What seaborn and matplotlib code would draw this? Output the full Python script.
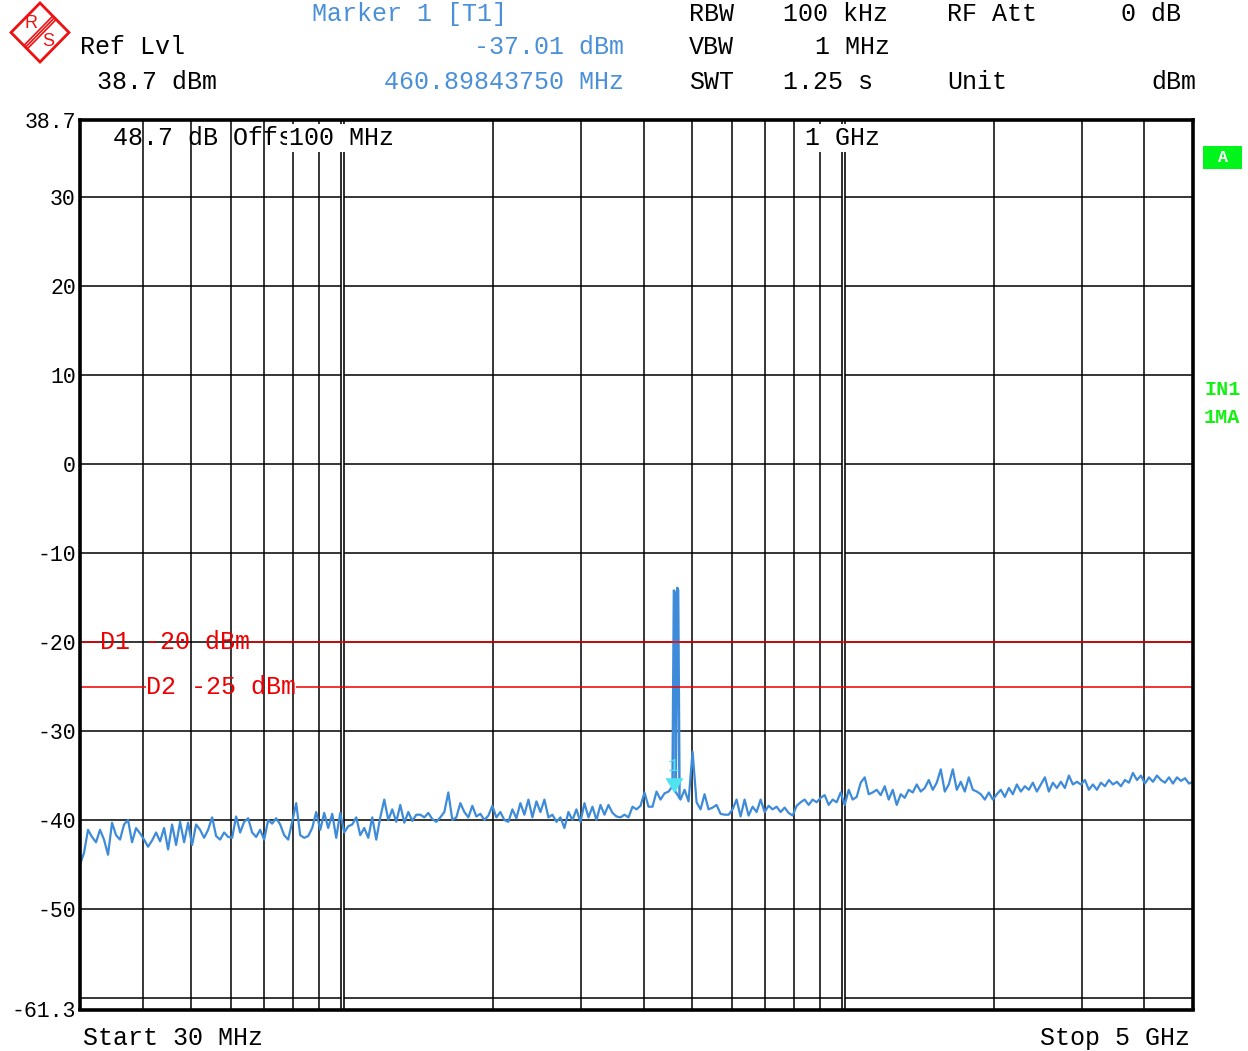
import numpy as np
import pandas as pd
import matplotlib
matplotlib.use("Agg")
import matplotlib.pyplot as plt
from matplotlib.patches import Polygon, Rectangle
from matplotlib.ticker import NullLocator
import seaborn as sns

# ---- sweep setup -------------------------------------------------------
start_mhz = 30
stop_mhz = 5000
ref_lvl = 38.7
bottom_lvl = -61.3

# max-hold trace, one level per sweep point (log-spaced from start to stop)
trace_dbm = [
    -45.0, -43.7, -41.1, -41.9, -42.5, -41.1, -42.2, -43.9, -40.3, -41.7,
    -42.2, -40.5, -40.0, -42.5, -40.9, -41.5, -42.2, -43.0, -42.3, -41.4,
    -42.4, -40.9, -43.3, -40.5, -42.8, -40.2, -42.5, -40.3, -42.8, -40.5,
    -41.1, -42.0, -41.1, -39.7, -41.8, -42.2, -41.4, -41.9, -42.0, -39.6,
    -41.4, -40.2, -39.8, -41.4, -41.9, -41.1, -42.2, -40.0, -40.4, -39.8,
    -40.5, -41.7, -42.2, -40.2, -38.1, -41.7, -42.0, -41.8, -40.9, -39.1,
    -41.1, -39.2, -40.9, -39.3, -42.0, -39.2, -41.4, -40.7, -40.5, -39.7,
    -41.7, -40.9, -42.0, -39.7, -42.2, -39.7, -37.7, -40.0, -38.8, -40.2,
    -38.3, -40.3, -39.1, -40.1, -39.4, -39.4, -39.7, -39.2, -39.9, -40.2,
    -39.7, -39.1, -36.9, -40.0, -39.7, -38.1, -39.1, -39.7, -38.4, -39.6,
    -39.3, -40.0, -39.5, -38.4, -39.7, -39.1, -40.0, -40.2, -38.8, -39.8,
    -38.1, -39.4, -37.7, -39.7, -37.9, -39.1, -37.7, -39.7, -39.4, -40.2,
    -39.7, -40.9, -39.1, -40.0, -38.8, -40.2, -38.1, -39.7, -38.5, -40.0,
    -38.3, -39.4, -38.3, -39.2, -39.6, -39.7, -39.4, -39.7, -38.5, -38.8,
    -38.4, -36.9, -38.5, -38.5, -36.8, -37.7, -37.0, -36.8, -36.2, -37.0,
    -37.7, -36.6, -37.9, -32.3, -38.0, -38.8, -37.1, -38.8, -38.6, -38.3,
    -39.3, -39.4, -39.4, -38.8, -37.7, -39.6, -37.7, -39.5, -38.5, -39.1,
    -37.7, -39.1, -38.4, -38.8, -38.5, -39.1, -38.6, -39.2, -39.5, -38.4,
    -38.0, -37.7, -38.3, -37.7, -38.0, -37.5, -37.2, -38.3, -37.7, -38.0,
    -36.9, -38.3, -36.6, -37.7, -37.4, -35.8, -35.2, -37.1, -36.9, -36.6,
    -37.2, -36.2, -37.7, -36.6, -38.3, -37.1, -37.5, -36.6, -36.9, -36.0,
    -36.8, -36.4, -35.5, -36.6, -35.8, -34.3, -36.8, -36.0, -34.3, -36.6,
    -35.7, -36.8, -35.2, -36.6, -36.8, -37.1, -37.7, -36.9, -37.7, -37.1,
    -36.6, -37.4, -36.4, -37.1, -36.0, -36.8, -36.2, -36.6, -35.8, -36.8,
    -36.0, -35.2, -36.8, -35.8, -36.4, -35.7, -36.4, -35.0, -36.0, -35.7,
    -36.0, -35.5, -36.6, -36.0, -36.6, -35.8, -36.2, -35.5, -36.0, -35.7,
    -36.2, -35.5, -35.8, -34.7, -35.5, -35.0, -35.9, -35.2, -35.7, -35.0,
    -35.5, -35.8, -35.2, -35.9, -35.2, -35.6, -35.3, -35.9, -35.7,
]

# narrow carrier around 460 MHz
carrier_mhz = [457.0, 460.0, 462.0, 464.0, 467.0, 469.0, 472.0]
carrier_dbm = [-36.4, -14.2, -14.5, -36.0, -13.9, -14.2, -37.5]

marker_mhz = 460.89843750
marker_dbm = -37.01

d1_dbm = -20
d2_dbm = -25

ytick_vals = [38.7, 30, 20, 10, 0, -10, -20, -30, -40, -50, -61.3]
ytick_labels = ["38.7", "30", "20", "10", "0", "-10", "-20", "-30",
                "-40", "-50", "-61.3"]
hgrid_dbm = [30, 20, 10, 0, -10, -20, -30, -40, -50, -60]
vgrid_mhz = [40, 50, 60, 70, 80, 90, 200, 300, 400, 500, 600, 700, 800,
             900, 2000, 3000, 4000]
decade_mhz = [100, 1000]
decade_labels = ["100 MHz", "1 GHz"]

# ---- colours ------------------------------------------------------------
TRACE = "#3d8bd9"
INFO_BLUE = "#4a90d9"
RED = "#ee0000"
CYAN = "#4fe3f0"
GREEN = "#14f014"

sns.set_theme(style="white")
plt.rcParams["font.family"] = ["Liberation Mono", "DejaVu Sans Mono"]
plt.rcParams["axes.unicode_minus"] = False

FS = 18
W, H = 1248, 1051
fig = plt.figure(figsize=(W / 100, H / 100), dpi=100, facecolor="white")

# overlay in pixel units for the instrument header / side annotations
ov = fig.add_axes([0, 0, 1, 1])
ov.set_xlim(0, W)
ov.set_ylim(H, 0)
ov.axis("off")

ax = fig.add_axes([80 / W, 1 - 1009.5 / H, 1113 / W, 889.5 / H])
ax.set_facecolor("white")
ax.set_xscale("log")

sweep_mhz = np.geomspace(start_mhz, stop_mhz, len(trace_dbm))
trace = pd.DataFrame({"freq": sweep_mhz, "level": trace_dbm})
carrier = pd.DataFrame({"freq": carrier_mhz, "level": carrier_dbm})
sns.lineplot(data=trace, x="freq", y="level", ax=ax, color=TRACE, lw=1.6,
             estimator=None, legend=False, zorder=4)
sns.lineplot(data=carrier, x="freq", y="level", ax=ax, color=TRACE, lw=1.8,
             estimator=None, sort=False, legend=False, zorder=4)

ax.set_xlim(start_mhz, stop_mhz)
ax.set_ylim(bottom_lvl, ref_lvl)
ax.set_xlabel("")
ax.set_ylabel("")
ax.set_xticks([])
ax.xaxis.set_minor_locator(NullLocator())
ax.set_yticks(ytick_vals, ytick_labels)
ax.tick_params(axis="y", length=0, pad=3, labelsize=15.5, labelcolor="black")
for sp in ax.spines.values():
    sp.set_linewidth(2.6)
    sp.set_color("black")
    sp.set_zorder(8)

# graticule
for lv in hgrid_dbm:
    ax.axhline(lv, color="black", lw=1.1, zorder=1)
for f in vgrid_mhz:
    ax.axvline(f, color="black", lw=1.1, zorder=1)
for f in decade_mhz:
    ax.axvline(f, color="black", lw=3.3, zorder=1)
    ax.axvline(f, color="white", lw=1.0, zorder=1.1)

# labels inside the grid
ax.text(0.0296, 0.9798, "48.7 dB Offset", transform=ax.transAxes,
        fontsize=FS, va="center", ha="left", color="black", zorder=5)
for f, lab in zip(decade_mhz, decade_labels):
    ax.text(f, 0.9798, lab, transform=ax.get_xaxis_transform(),
            fontsize=FS, va="center", ha="center", color="black", zorder=6,
            bbox=dict(facecolor="white", edgecolor="none", pad=1.5))

# display lines
d1_text = ax.text(0.018, d1_dbm, "D1 -20 dBm", transform=ax.get_yaxis_transform(),
                  fontsize=FS, color=RED, va="center", ha="left", zorder=6)
d2_text = ax.text(0.0593, d2_dbm, "D2 -25 dBm", transform=ax.get_yaxis_transform(),
                  fontsize=FS, color=RED, va="center", ha="left", zorder=6)

# marker 1
tip_marker = [(-0.5, 0.85), (0.5, 0.85), (0.0, 0.0)]
ax.plot([marker_mhz], [marker_dbm], marker=tip_marker, markersize=22,
        color=CYAN, markeredgewidth=0, linestyle="none", zorder=7)
ax.annotate("1", xy=(marker_mhz, marker_dbm), xytext=(-1, 27),
            textcoords="offset pixels", ha="center", va="center",
            fontsize=14, color=CYAN, zorder=7)

# header text
def hdr(x, y, s, color="black", ha="left", **kw):
    ov.text(x, y, s, fontsize=FS, color=color, ha=ha, va="baseline", **kw)

hdr(312, 21, "Marker 1 [T1]", INFO_BLUE)
hdr(624, 54, "-37.01 dBm", INFO_BLUE, ha="right")
hdr(624, 89, "460.89843750 MHz", INFO_BLUE, ha="right")
hdr(80, 54, "Ref Lvl")
hdr(97, 89, "38.7 dBm")
hdr(689, 21, "RBW")
hdr(783, 21, "100 kHz")
hdr(947, 21, "RF Att")
hdr(1181, 21, "0 dB", ha="right")
hdr(689, 54, "VBW")
hdr(890, 54, "1 MHz", ha="right")
hdr(689, 89, "SWT")
hdr(783, 89, "1.25 s")
hdr(947, 89, "Unit")
hdr(1196, 89, "dBm", ha="right")
hdr(83, 1045, "Start 30 MHz")
hdr(1190, 1045, "Stop 5 GHz", ha="right")

# side annotations
ov.add_patch(Rectangle((1203, 146), 39, 23, facecolor="#00f51a", edgecolor="none"))
ov.text(1222.5, 158, "A", fontsize=12, fontweight="bold", color="white",
        ha="center", va="center")
ov.text(1204, 395, "IN1", fontsize=14.5, fontweight="bold", color=GREEN,
        ha="left", va="baseline")
ov.text(1204, 423, "1MA", fontsize=14.5, fontweight="bold", color=GREEN,
        ha="left", va="baseline")

# R&S emblem
LOGO = "#ee1111"
ov.add_patch(Polygon([(40, 3), (69, 32.5), (40, 62), (11, 32.5)], closed=True,
                     fill=False, edgecolor=LOGO, lw=2.0))
for off in (-2.4, 0.0, 2.4):
    dx, dy = 0.70 * off, 0.71 * off
    ov.plot([25.5 + dx, 54.5 + dx], [47.25 + dy, 17.75 + dy], color=LOGO, lw=1.2)
ov.text(31, 24, "R", fontsize=13, color=LOGO, ha="center", va="center",
        family="Liberation Sans")
ov.text(48.5, 42, "S", fontsize=13, color=LOGO, ha="center", va="center",
        family="Liberation Sans")

# display line segments either side of their labels
fig.canvas.draw()
renderer = fig.canvas.get_renderer()
inv = ax.transAxes.inverted()
for t, lvl in ((d1_text, d1_dbm), (d2_text, d2_dbm)):
    bb = t.get_window_extent(renderer)
    x0 = inv.transform((bb.x0, bb.y0))[0]
    x1 = inv.transform((bb.x1, bb.y0))[0]
    ax.plot([0, x0], [lvl, lvl], transform=ax.get_yaxis_transform(),
            color=RED, lw=1.1, zorder=5, solid_capstyle="butt")
    ax.plot([x1, 1], [lvl, lvl], transform=ax.get_yaxis_transform(),
            color=RED, lw=1.1, zorder=5, solid_capstyle="butt")

fig.savefig("out.png", dpi=100, facecolor="white")
